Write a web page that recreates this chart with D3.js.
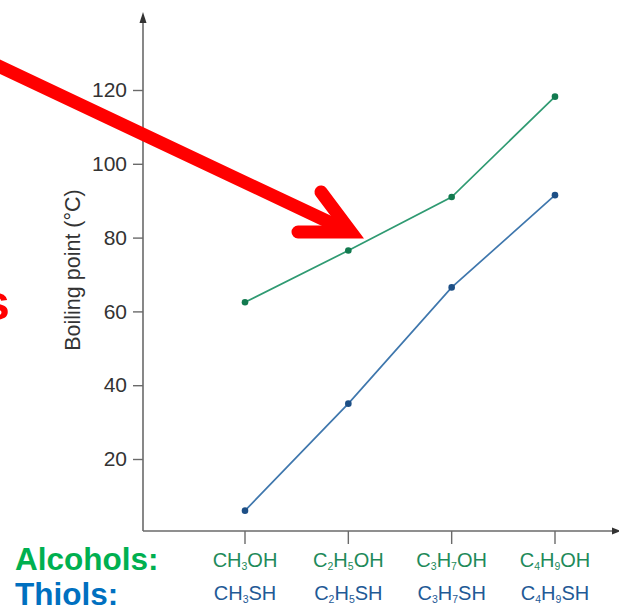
<!DOCTYPE html>
<meta charset="utf-8">
<body style="margin:0;background:#fff">
<script src="https://cdn.jsdelivr.net/npm/d3@7"></script>
<script>
// boiling points
var alcoholNames = [['CH','3','OH'], ['C','2','H','5','OH'], ['C','3','H','7','OH'], ['C','4','H','9','OH']];
var thiolNames = [['CH','3','SH'], ['C','2','H','5','SH'], ['C','3','H','7','SH'], ['C','4','H','9','SH']];
var alcohols = [62.5, 76.5, 91, 118.2];
var thiols = [6, 35, 66.5, 91.5];
var yTicks = [20, 40, 60, 80, 100, 120];

var W = 619, H = 609;
var font = 'Liberation Sans, Arial, sans-serif';
var svg = d3.select('body').append('svg')
    .attr('width', W).attr('height', H)
    .style('display', 'block')
    .style('font-family', font);

var x = d3.scalePoint().domain(d3.range(4)).range([245, 555]);
var y = d3.scaleLinear().domain([0, 120]).range([532.8, 90]);

var axisCol = '#6a6a6a';
var x0 = 143, yAx = 531;

// axes lines with arrowheads
svg.append('line').attr('x1', x0).attr('x2', x0).attr('y1', 20).attr('y2', yAx)
  .attr('stroke', axisCol).attr('stroke-width', 1.6);
svg.append('path').attr('d', `M${x0-3.5},23 L${x0},12 L${x0+3.5},23 Z`).attr('fill', '#333');
svg.append('line').attr('x1', x0).attr('x2', 612).attr('y1', yAx).attr('y2', yAx)
  .attr('stroke', axisCol).attr('stroke-width', 1.6);
svg.append('path').attr('d', `M612,${yAx-3.5} L621,${yAx} L612,${yAx+3.5} Z`).attr('fill', '#333');

// y ticks
var yg = svg.append('g').attr('transform', `translate(${x0},0)`)
  .call(d3.axisLeft(y).tickValues(yTicks).tickSize(10).tickPadding(6));
yg.select('.domain').remove();
yg.selectAll('line').attr('stroke', axisCol).attr('stroke-width', 1.4);
yg.selectAll('text').attr('font-size', 21).attr('fill', '#333').attr('font-family', font);

// x ticks
svg.append('g').selectAll('line').data(d3.range(4)).join('line')
  .attr('x1', d => x(d)).attr('x2', d => x(d))
  .attr('y1', yAx).attr('y2', yAx + 13)
  .attr('stroke', axisCol).attr('stroke-width', 1.4);

svg.append('text')
  .attr('transform', 'translate(80,270) rotate(-90)')
  .attr('text-anchor', 'middle')
  .attr('font-size', 21.5).attr('fill', '#333')
  .text('Boiling point (°C)');

// series
var series = [
  {vals: alcohols, line: '#2f9a72', dot: '#127a4f'},
  {vals: thiols, line: '#3f77ad', dot: '#1d4f86'}
];
var line = d3.line().x((d, i) => x(i)).y(d => y(d));
series.forEach(s => {
  svg.append('path').attr('d', line(s.vals))
    .attr('fill', 'none').attr('stroke', s.line).attr('stroke-width', 1.7);
  svg.append('g').selectAll('circle').data(s.vals).join('circle')
    .attr('cx', (d, i) => x(i)).attr('cy', d => y(d)).attr('r', 3.3)
    .attr('fill', s.dot);
});

// formula labels with subscripts
function formula(names, yy, col) {
  var t = svg.append('g').selectAll('text').data(names).join('text')
    .attr('x', (d, i) => x(i)).attr('y', yy)
    .attr('text-anchor', 'middle').attr('font-size', 20).attr('fill', col);
  t.each(function(parts) {
    var el = d3.select(this);
    parts.forEach((p, k) => {
      var sub = k % 2 == 1;
      el.append('tspan').text(p)
        .attr('font-size', sub ? 10.5 : 20)
        .attr('dy', sub ? 3 : (k > 0 ? -3 : 0));
    });
  });
}
formula(alcoholNames, 567, '#1e8a5a');
formula(thiolNames, 600, '#1f5a96');

svg.append('text').attr('x', 15).attr('y', 570).attr('font-size', 31.5).attr('font-weight', 'bold')
  .attr('fill', '#00b050').text('Alcohols:');
svg.append('text').attr('x', 15).attr('y', 605).attr('font-size', 31.5).attr('font-weight', 'bold')
  .attr('fill', '#0070c0').text('Thiols:');

// red annotation
svg.append('text').attr('x', -18).attr('y', 320).attr('font-size', 50).attr('font-weight', 'bold')
  .attr('fill', '#ff0000').text('s');
var red = svg.append('g').attr('stroke', '#ff0000').attr('stroke-width', 13)
  .attr('stroke-linecap', 'round').attr('fill', 'none');
red.append('line').attr('x1', -10).attr('y1', 62).attr('x2', 348).attr('y2', 231);
red.append('path').attr('d', 'M321,192 L351,232 L298,232').attr('stroke-linejoin', 'miter');
</script>
</body>
